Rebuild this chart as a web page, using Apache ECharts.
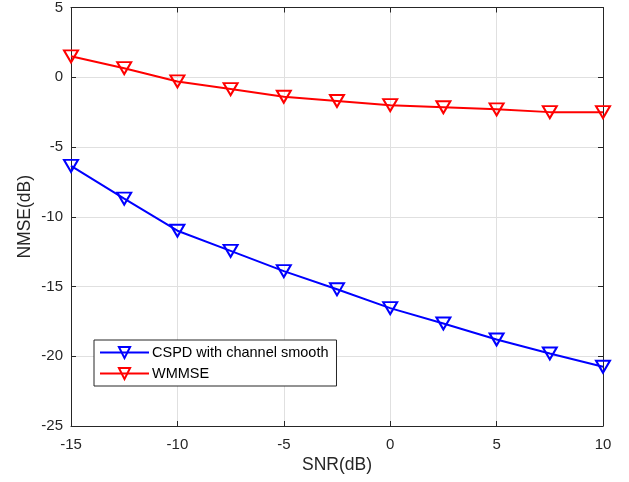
<!DOCTYPE html>
<html>
<head>
<meta charset="utf-8">
<script src="https://cdn.jsdelivr.net/npm/echarts@6/dist/echarts.min.js"></script>
<style>html,body{margin:0;padding:0;background:#fff}#c{width:629px;height:482px}</style>
</head>
<body>
<div id="c"></div>
<script>
const snr = [-15, -12.5, -10, -7.5, -5, -2.5, 0, 2.5, 5, 7.5, 10];
const cspd = [-6.35, -8.7, -11.0, -12.45, -13.9, -15.2, -16.55, -17.65, -18.8, -19.8, -20.75];
const wmmse = [1.5, 0.65, -0.3, -0.85, -1.4, -1.7, -2.0, -2.15, -2.3, -2.5, -2.5];
const xTicks = [-15, -10, -5, 0, 5, 10];
const yTicks = [-25, -20, -15, -10, -5, 0, 5];
const seriesNames = ['CSPD with channel smooth', 'WMMSE'];

const font = 'Liberation Sans, Arial, Helvetica, sans-serif';
const axisCol = '#262626';
const chart = echarts.init(document.getElementById('c'), null, {renderer: 'canvas'});

function mkSeries(name, ys, color) {
  return {
    name: name,
    type: 'line',
    data: snr.map((x, i) => [x, ys[i]]),
    symbol: 'triangle',
    symbolRotate: 180,
    symbolSize: [14, 12],
    showAllSymbol: true,
    lineStyle: {color: color, width: 2},
    itemStyle: {color: 'rgba(255,255,255,0)', borderColor: color, borderWidth: 2},
    emphasis: {disabled: true},
    z: 3
  };
}

const baseX = {
  type: 'value', min: -15, max: 10, interval: 5,
  axisLine: {show: true, onZero: false, lineStyle: {color: axisCol, width: 1}},
  axisTick: {show: true, inside: true, length: 5, lineStyle: {color: axisCol}},
  splitLine: {show: false}
};
const baseY = {
  type: 'value', min: -25, max: 5, interval: 5,
  axisLine: {show: true, onZero: false, lineStyle: {color: axisCol, width: 1}},
  axisTick: {show: true, inside: true, length: 5, lineStyle: {color: axisCol}},
  splitLine: {show: false}
};

chart.setOption({
  animation: false,
  backgroundColor: '#ffffff',
  textStyle: {fontFamily: font},
  grid: {left: 71, right: 26, top: 6, bottom: 56, containLabel: false},
  legend: {
    data: seriesNames,
    orient: 'vertical',
    left: 94, top: 340,
    width: 243,
    padding: [5, 8, 5, 5],
    itemGap: 6,
    itemWidth: 49,
    itemHeight: 14,
    backgroundColor: '#ffffff',
    borderColor: axisCol,
    borderWidth: 1,
    textStyle: {fontFamily: font, fontSize: 14.5, color: '#000', padding: [0, 0, 0, -2]}
  },
  xAxis: [
    Object.assign({}, baseX, {
      position: 'bottom',
      name: 'SNR(dB)', nameLocation: 'middle', nameGap: 30, nameMoveOverlap: false,
      nameTextStyle: {fontFamily: font, fontSize: 17.5, color: axisCol},
      axisLabel: {show: true, margin: 11, fontFamily: font, fontSize: 15, color: axisCol,
        formatter: v => xTicks.includes(v) ? String(v) : ''},
      splitLine: {show: true, lineStyle: {color: '#e0e0e0', width: 1}}
    }),
    Object.assign({}, baseX, {position: 'top', axisLabel: {show: false}})
  ],
  yAxis: [
    Object.assign({}, baseY, {
      position: 'left',
      name: 'NMSE(dB)', nameLocation: 'middle', nameGap: 37, nameMoveOverlap: false,
      nameTextStyle: {fontFamily: font, fontSize: 17.5, color: axisCol},
      axisLabel: {show: true, margin: 8, fontFamily: font, fontSize: 15, color: axisCol,
        formatter: v => yTicks.includes(v) ? String(v) : ''},
      splitLine: {show: true, lineStyle: {color: '#e0e0e0', width: 1}}
    }),
    Object.assign({}, baseY, {position: 'right', axisLabel: {show: false}})
  ],
  series: [
    mkSeries(seriesNames[0], cspd, '#0000ff'),
    mkSeries(seriesNames[1], wmmse, '#ff0000')
  ]
});
</script>
</body>
</html>
